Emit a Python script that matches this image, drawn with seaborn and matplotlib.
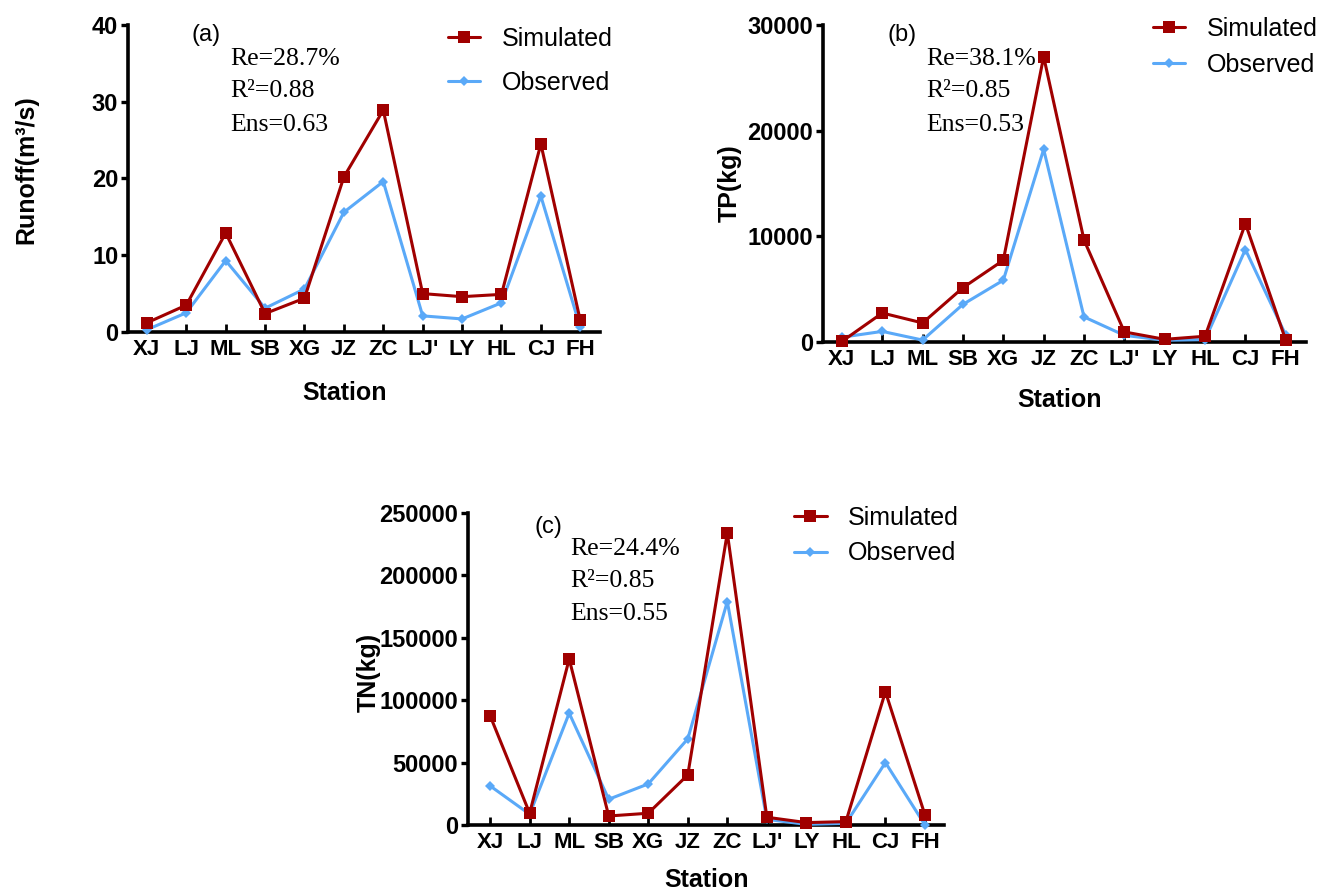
import pandas as pd
import matplotlib.pyplot as plt
from matplotlib.lines import Line2D
import seaborn as sns

# station order along the x axis
stations = ["XJ", "LJ", "ML", "SB", "XG", "JZ", "ZC", "LJ'", "LY", "HL", "CJ", "FH"]

# values
runoff_sim = [1.2, 3.5, 12.9, 2.4, 4.4, 20.2, 28.9, 5.0, 4.6, 4.9, 24.5, 1.5]
runoff_obs = [0.3, 2.5, 9.3, 3.1, 5.6, 15.6, 19.6, 2.1, 1.7, 3.8, 17.7, 0.6]
tp_sim = [50, 2740, 1800, 5140, 7730, 27000, 9650, 950, 250, 540, 11200, 180]
tp_obs = [450, 1000, 180, 3560, 5840, 18230, 2370, 630, 160, 220, 8750, 650]
tn_sim = [87500, 9400, 133000, 7200, 9400, 40100, 234000, 6200, 1900, 2700, 106800, 8000]
tn_obs = [31300, 8600, 89600, 20600, 32900, 69000, 179000, 4500, 500, 1300, 50000, 0]

panel_tags = ["(a)", "(b)", "(c)"]
stats_a = ["Re=28.7%", "R²=0.88", "Ens=0.63"]
stats_b = ["Re=38.1%", "R²=0.85", "Ens=0.53"]
stats_c = ["Re=24.4%", "R²=0.85", "Ens=0.55"]
ylabels = ["Runoff(m³/s)", "TP(kg)", "TN(kg)"]
ymax = [40, 30000, 250000]
ysteps = [10, 10000, 50000]

RED = "#A00000"
BLUE = "#5AA9F8"

sns.set_theme(style="ticks")
plt.rcParams['font.family'] = ['Liberation Sans', 'DejaVu Sans']
plt.rcParams['text.color'] = 'black'


def make_df(sim, obs):
    rows = []
    for s, v in zip(stations, sim):
        rows.append({'station': s, 'value': v, 'type': 'Simulated'})
    for s, v in zip(stations, obs):
        rows.append({'station': s, 'value': v, 'type': 'Observed'})
    return pd.DataFrame(rows)


fig = plt.figure(figsize=(13.25, 8.91), dpi=100)

# axes rectangles and layout tweaks for each panel
positions = [[0.0966, 0.6274, 0.3562, 0.3446],
             [0.6211, 0.6162, 0.3645, 0.3558],
             [0.3532, 0.0741, 0.3592, 0.3502]]
xlims = [(-0.48, 11.5), (-0.47, 11.5), (-0.56, 11.48)]
tag_pos = [(0.134, 0.967), (0.133, 0.968), (0.139, 0.955)]
stat_x = [0.216, 0.213, 0.214]
stat_y = [[0.89, 0.786, 0.675], [0.893, 0.792, 0.685], [0.885, 0.782, 0.677]]
leg_pos = [(0.678, 0.993), (0.683, 1.025), (0.685, 1.022)]
leg_space = [0.79, 0.46, 0.45]
ylab_pos = [(-0.19, 0.53), (-0.168, 0.5), (-0.183, 0.49)]
xlab_pos = [(0.458, -0.16), (0.49, -0.145), (0.502, -0.138)]

datasets = [make_df(runoff_sim, runoff_obs), make_df(tp_sim, tp_obs), make_df(tn_sim, tn_obs)]
all_stats = [stats_a, stats_b, stats_c]

for i, df in enumerate(datasets):
    ax = fig.add_axes(positions[i])
    sns.lineplot(data=df, x='station', y='value', hue='type', style='type',
                 hue_order=['Simulated', 'Observed'],
                 palette={'Simulated': RED, 'Observed': BLUE},
                 markers={'Simulated': 's', 'Observed': 'D'}, dashes=False,
                 sort=False, linewidth=2.2, markeredgewidth=0,
                 legend=False, ax=ax)
    for ln in ax.lines:
        ln.set_clip_on(False)
        if ln.get_color() == RED:
            ln.set_markersize(9)
            ln.set_zorder(4)
        else:
            ln.set_markersize(5)
            ln.set_zorder(3)

    ax.set_xlim(*xlims[i])
    ax.set_ylim(0, ymax[i])
    ax.set_yticks(range(0, ymax[i] + 1, ysteps[i]))
    ax.set_xticks(range(len(stations)))
    ax.set_xticklabels(stations)
    sns.despine(ax=ax)
    for side in ['left', 'bottom']:
        ax.spines[side].set_linewidth(2.6)
        ax.spines[side].set_color('black')
    ax.tick_params(axis='y', direction='out', length=5, width=2.4, pad=2,
                   labelsize=17, colors='black')
    ax.tick_params(axis='x', direction='in', length=6, width=2.0, pad=5,
                   labelsize=16, colors='black')
    for lab in ax.get_xticklabels() + ax.get_yticklabels():
        lab.set_fontweight('bold')

    ax.set_xlabel('Station', fontsize=18, fontweight='bold', color='black')
    ax.set_ylabel(ylabels[i], fontsize=18, fontweight='bold', color='black')
    ax.xaxis.set_label_coords(*xlab_pos[i])
    ax.yaxis.set_label_coords(*ylab_pos[i])

    ax.text(tag_pos[i][0], tag_pos[i][1], panel_tags[i], transform=ax.transAxes,
            fontsize=17, ha='left', va='center', color='black')
    for txt, yy in zip(all_stats[i], stat_y[i]):
        ax.text(stat_x[i], yy, txt, transform=ax.transAxes,
                family=['Liberation Serif', 'DejaVu Serif'], fontsize=18.5,
                ha='left', va='center', color='black')

    handles = [Line2D([], [], color=RED, lw=2.2, marker='s', markersize=9, markeredgewidth=0),
               Line2D([], [], color=BLUE, lw=2.2, marker='D', markersize=5, markeredgewidth=0)]
    leg = ax.legend(handles, ['Simulated', 'Observed'], loc='upper left',
                    bbox_to_anchor=leg_pos[i], frameon=False, fontsize=18,
                    borderpad=0, borderaxespad=0, handlelength=1.3,
                    handletextpad=0.85, labelspacing=leg_space[i])
    for t in leg.get_texts():
        t.set_color('black')

fig.savefig('out.png', dpi=100)
